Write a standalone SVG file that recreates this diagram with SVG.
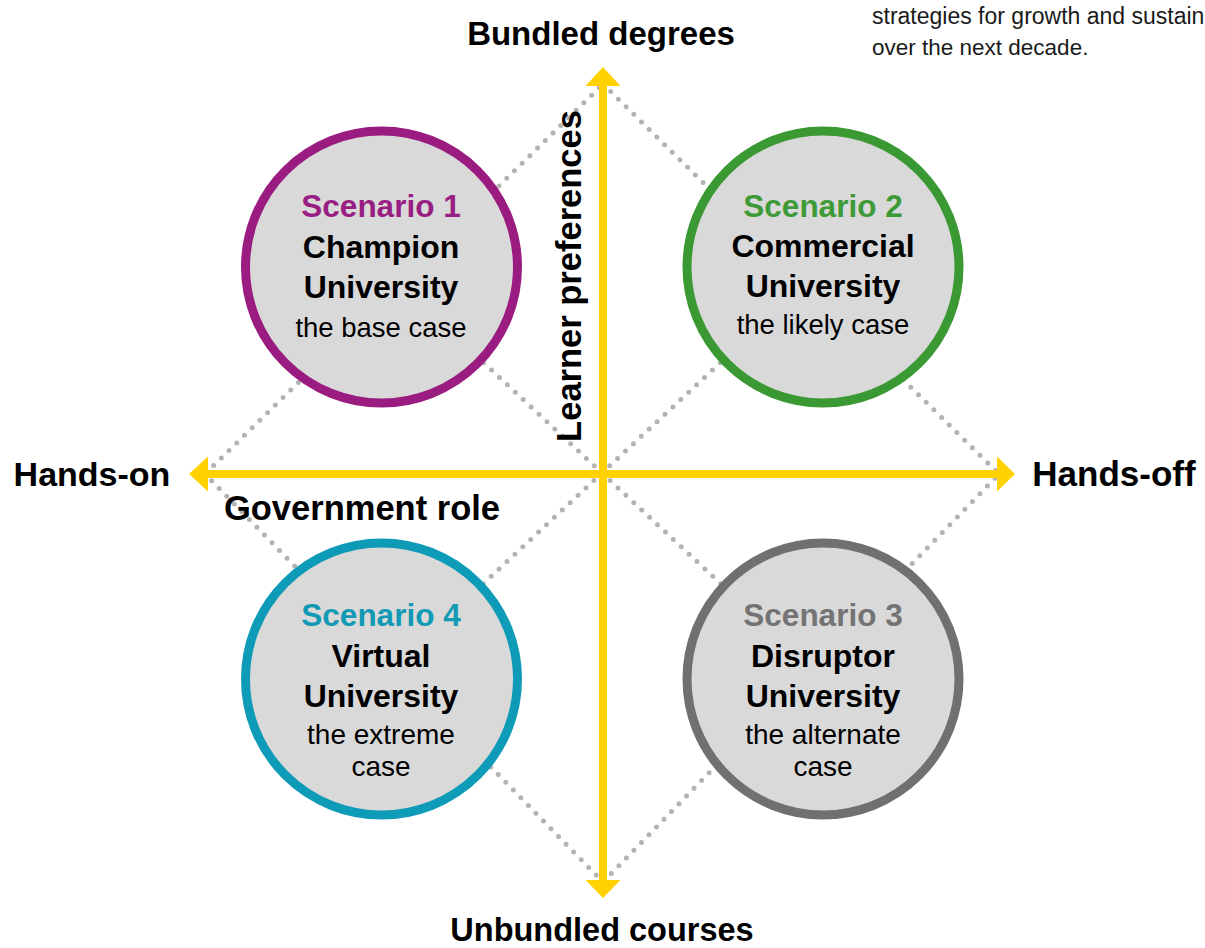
<svg xmlns="http://www.w3.org/2000/svg" width="1205" height="948" viewBox="0 0 1205 948">
<style>
.dot{fill:none;stroke:#b3b3b3;stroke-width:5;stroke-linecap:round;stroke-dasharray:0 10.8}
.ax{stroke:#ffd200;stroke-width:8;fill:none}
.ah{fill:#ffd200}
.ring{fill:#d9d9d9;stroke-width:9}
.b{font-family:"Liberation Sans",Arial,sans-serif;font-weight:bold;text-anchor:middle;fill:#000}
.r{font-family:"Liberation Sans",Arial,sans-serif;text-anchor:middle;fill:#000}
</style>
<rect width="1205" height="948" fill="#fff"/>
<g id="connectors">
<path class="dot" d="M603 84 L999 474 L603 882 L205 474 Z"/>
<path class="dot" d="M381 267 L823 679"/>
<path class="dot" d="M823 267 L381 679"/>
</g>
<g id="axes">
<line class="ax" x1="603" y1="84" x2="603" y2="882"/>
<line class="ax" x1="206" y1="474" x2="999" y2="474"/>
<polygon class="ah" points="603,67 620.5,86 585.5,86"/>
<polygon class="ah" points="603,898 620.5,880 585.5,880"/>
<polygon class="ah" points="189,474 208,456.5 208,491.5"/>
<polygon class="ah" points="1015,474 997,456.5 997,491.5"/>
</g>
<g id="axis-labels">
<text class="b" x="601" y="45" font-size="33">Bundled degrees</text>
<text class="b" x="602" y="941" font-size="32.5">Unbundled courses</text>
<text class="b" x="92" y="486" font-size="34">Hands-on</text>
<text class="b" x="1114" y="486" font-size="35">Hands-off</text>
<text class="b" x="362" y="520" font-size="34.5">Government role</text>
<text class="b" x="0" y="0" font-size="34.5" transform="translate(580.5 276) rotate(-90)">Learner preferences</text>
</g>
<g id="note" font-family="'Liberation Sans',Arial,sans-serif" font-size="23" fill="#1a1a1a">
<text x="872" y="24">strategies for growth and sustain</text>
<text x="872" y="55" font-size="22.5">over the next decade.</text>
</g>
<g id="scenario1">
<circle class="ring" cx="381.5" cy="267" r="136" stroke="#9b1c80"/>
<text class="b" x="381" y="217" font-size="31.5" style="fill:#991e84">Scenario 1</text>
<text class="b" x="381" y="258" font-size="32">Champion</text>
<text class="b" x="381" y="298" font-size="32">University</text>
<text class="r" x="381" y="337" font-size="27.5">the base case</text>
</g>
<g id="scenario2">
<circle class="ring" cx="823" cy="267" r="136" stroke="#3a9933"/>
<text class="b" x="823" y="217" font-size="31.5" style="fill:#3d9a36">Scenario 2</text>
<text class="b" x="823" y="257" font-size="32">Commercial</text>
<text class="b" x="823" y="297" font-size="32">University</text>
<text class="r" x="823" y="334" font-size="27.5">the likely case</text>
</g>
<g id="scenario3">
<circle class="ring" cx="823" cy="679" r="136" stroke="#707070"/>
<text class="b" x="823" y="626" font-size="31.5" style="fill:#737373">Scenario 3</text>
<text class="b" x="823" y="667" font-size="32">Disruptor</text>
<text class="b" x="823" y="707" font-size="32">University</text>
<text class="r" x="823" y="744" font-size="28">the alternate</text>
<text class="r" x="823" y="776" font-size="28">case</text>
</g>
<g id="scenario4">
<circle class="ring" cx="381.5" cy="679" r="136" stroke="#0e9bb8"/>
<text class="b" x="381" y="626" font-size="31.5" style="fill:#1199b6">Scenario 4</text>
<text class="b" x="381" y="667" font-size="32">Virtual</text>
<text class="b" x="381" y="707" font-size="32">University</text>
<text class="r" x="381" y="744" font-size="28">the extreme</text>
<text class="r" x="381" y="776" font-size="28">case</text>
</g>
</svg>
